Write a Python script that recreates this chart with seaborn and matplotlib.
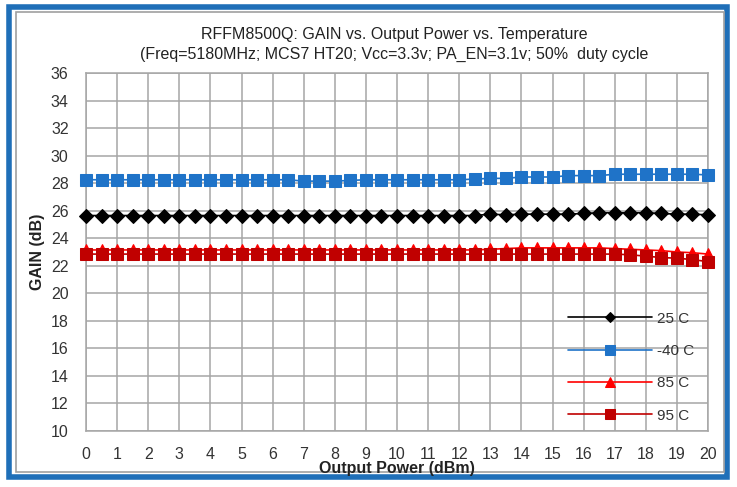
import numpy as np
import pandas as pd
import matplotlib
matplotlib.use("Agg")
import matplotlib.pyplot as plt
import seaborn as sns
from matplotlib.patches import Rectangle
from matplotlib.ticker import MultipleLocator

# Output power sweep (dBm)
pout = [0, 0.5, 1, 1.5, 2, 2.5, 3, 3.5, 4, 4.5, 5, 5.5, 6, 6.5, 7, 7.5, 8, 8.5, 9, 9.5,
        10, 10.5, 11, 11.5, 12, 12.5, 13, 13.5, 14, 14.5, 15, 15.5, 16, 16.5, 17, 17.5,
        18, 18.5, 19, 19.5, 20]

# Gain (dB)
gain_25 = [25.65] * 26 + [25.75, 25.7, 25.75, 25.75, 25.75, 25.75, 25.8, 25.85, 25.85, 25.85,
                          25.85, 25.8, 25.75, 25.75, 25.7]
gain_m40 = [28.25] * 14 + [28.15, 28.15, 28.15, 28.2, 28.25, 28.25, 28.25, 28.25, 28.25, 28.25,
                           28.25, 28.3, 28.35, 28.35, 28.45, 28.45, 28.45, 28.55, 28.55, 28.55,
                           28.65, 28.65, 28.65, 28.65, 28.65, 28.65, 28.6]
gain_85 = [23.15] * 26 + [23.2, 23.25, 23.3, 23.3, 23.3, 23.3, 23.3, 23.3, 23.25, 23.2,
                          23.15, 23.1, 23.0, 22.95, 22.85]
gain_95 = [22.85] * 34 + [22.85, 22.8, 22.7, 22.6, 22.55, 22.45, 22.3]

labels = ["25 C", "-40 C", "85 C", "95 C"]
series = [gain_25, gain_m40, gain_85, gain_95]

df = pd.concat([pd.DataFrame({"pout": pout, "gain": g, "temp": t})
                for t, g in zip(labels, series)], ignore_index=True)

sns.set_style("white")
plt.rcParams["font.family"] = ["Liberation Sans", "DejaVu Sans"]

fig = plt.figure(figsize=(7.37, 4.87), dpi=100)

# outer blue frame and inner gray border
fig.patches.append(Rectangle((0.012, 0.02), 0.975, 0.965, transform=fig.transFigure,
                             facecolor="white", edgecolor="#1f6fb8", linewidth=4, zorder=-2))
fig.patches.append(Rectangle((0.022, 0.03), 0.96, 0.945, transform=fig.transFigure,
                             facecolor="none", edgecolor="#a0a0a0", linewidth=1.2, zorder=-1))

ax = fig.add_axes([0.1167, 0.115, 0.844, 0.735])
ax.set_facecolor("none")

palette = {"25 C": "black", "-40 C": "#1f73c8", "85 C": "#ff0000", "95 C": "#c00000"}
markers = {"25 C": "D", "-40 C": "s", "85 C": "^", "95 C": "s"}
sizes = {"25 C": 7, "-40 C": 9, "85 C": 9, "95 C": 9}

for t in labels:
    sub = df[df["temp"] == t]
    sns.lineplot(data=sub, x="pout", y="gain", ax=ax, color=palette[t], marker=markers[t],
                 markersize=sizes[t], markeredgecolor=palette[t], linewidth=1.2, label=t,
                 clip_on=False, zorder=3)

ax.set_xlim(0, 20)
ax.set_ylim(10, 36)
ax.xaxis.set_major_locator(MultipleLocator(1))
ax.xaxis.set_minor_locator(MultipleLocator(0.2))
ax.yaxis.set_major_locator(MultipleLocator(2))
ax.yaxis.set_minor_locator(MultipleLocator(0.4))
ax.grid(True, which="major", color="#a6a6a6", linewidth=1.1)
for s in ax.spines.values():
    s.set_color("#a6a6a6")
    s.set_linewidth(1.1)
ax.tick_params(axis="both", which="major", direction="inout", length=7, color="#a6a6a6",
               labelsize=11.5, labelcolor="#333333")
ax.tick_params(axis="x", which="major", pad=8)
ax.tick_params(axis="y", which="major", pad=9)
ax.tick_params(axis="both", which="minor", direction="in", length=4, color="#a6a6a6")

ax.set_xlabel("Output Power (dBm)", fontsize=11.5, fontweight="bold", color="#222222", labelpad=-1)
ax.set_ylabel("GAIN (dB)", fontsize=11.5, fontweight="bold", color="#222222", labelpad=4)

fig.text(0.535, 0.93, "RFFM8500Q: GAIN vs. Output Power vs. Temperature",
         ha="center", va="center", fontsize=11.5, color="#222222")
fig.text(0.535, 0.888, "(Freq=5180MHz; MCS7 HT20; Vcc=3.3v; PA_EN=3.1v; 50%  duty cycle",
         ha="center", va="center", fontsize=11.5, color="#222222")

leg = ax.legend(loc="lower right", bbox_to_anchor=(1.0, -0.015), frameon=False,
                handlelength=5.5, labelspacing=1.2, fontsize=11, handletextpad=0.3,
                markerscale=0.8)
for txt in leg.get_texts():
    txt.set_color("#333333")

fig.savefig("out.png", dpi=100)
